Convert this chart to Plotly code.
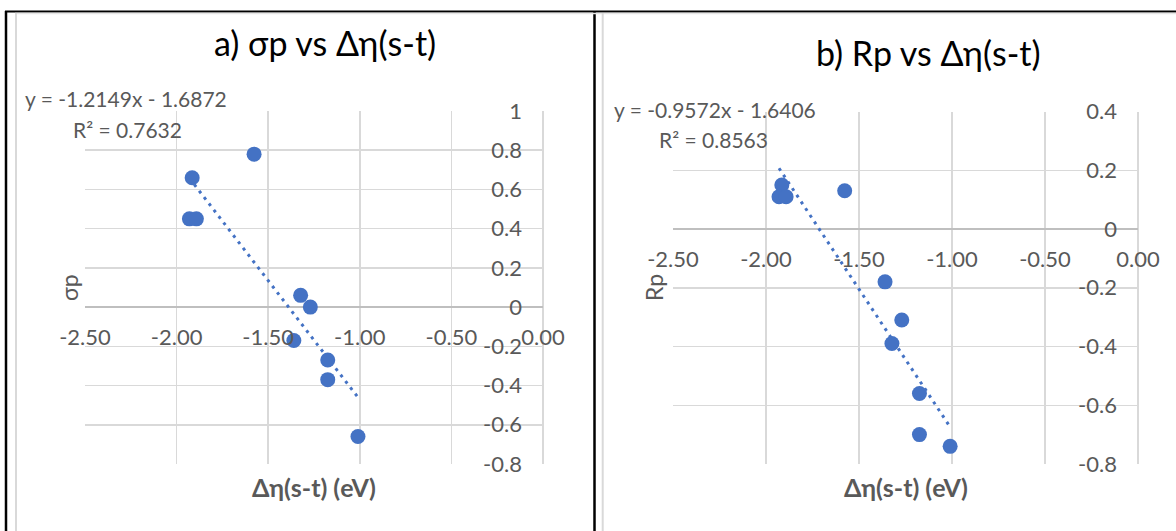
import plotly.graph_objects as go

W, H = 1176, 531

# ---------------- data ----------------
delta_eta = [-1.577, -1.915, -1.93, -1.892, -1.323, -1.27, -1.36, -1.175, -1.175, -1.01]
sigma_p = [0.78, 0.66, 0.45, 0.45, 0.06, 0.00, -0.17, -0.27, -0.37, -0.66]
r_p = [0.13, 0.15, 0.11, 0.11, -0.39, -0.31, -0.18, -0.56, -0.70, -0.74]

fit_a = (-1.2149, -1.6872)   # slope, intercept (from chart label)
fit_b = (-0.9572, -1.6406)

x_ticks = [-2.5, -2.0, -1.5, -1.0, -0.5, 0.0]
x_ticktext = ["-2.50", "-2.00", "-1.50", "-1.00", "-0.50", "0.00"]
ya_ticks = [1, 0.8, 0.6, 0.4, 0.2, 0, -0.2, -0.4, -0.6, -0.8]
ya_ticktext = ["1", "0.8", "0.6", "0.4", "0.2", "0", "-0.2", "-0.4", "-0.6", "-0.8"]
yb_ticks = [0.4, 0.2, 0, -0.2, -0.4, -0.6, -0.8]
yb_ticktext = ["0.4", "0.2", "0", "-0.2", "-0.4", "-0.6", "-0.8"]

titles = ["a) σp vs Δη(s-t)", "b) Rp vs Δη(s-t)"]
eq_texts = [("y = -1.2149x - 1.6872", "R² = 0.7632"), ("y = -0.9572x - 1.6406", "R² = 0.8563")]
y_titles = ["σp", "Rp"]
x_title = "<b>Δη(s-t) (eV)</b>"

# ---------------- style ----------------
BLUE = "#4472C4"
GRID = "#D9D9D9"
TXT = "#595959"
FONT = "Lato"
TICK_SIZE = 22

def px_x(p):
    return p / W

def px_y(p):
    return 1 - p / H

# plot areas in pixels (left, right, top, bottom)
areas = [(85, 543, 111, 464), (673, 1138, 111.5, 464)]
yranges = [(-0.8, 1.0), (-0.8, 0.4)]
xrange_ = (-2.5, 0.0)

fig = go.Figure()

series = [sigma_p, r_p]
fits = [fit_a, fit_b]
for i in range(2):
    xa = "x" if i == 0 else "x2"
    ya = "y" if i == 0 else "y2"
    xmin, xmax = min(delta_eta), max(delta_eta)
    slope, icpt = fits[i]
    fig.add_trace(go.Scatter(
        x=[xmin, xmax], y=[slope * xmin + icpt, slope * xmax + icpt],
        mode="lines", line=dict(color=BLUE, width=3, dash="3px,5px"),
        xaxis=xa, yaxis=ya, showlegend=False, hoverinfo="skip"))
    fig.add_trace(go.Scatter(
        x=delta_eta, y=series[i], mode="markers",
        marker=dict(color=BLUE, size=15, line=dict(width=0)),
        xaxis=xa, yaxis=ya, showlegend=False))

layout = dict(
    width=W, height=H, margin=dict(l=0, r=0, t=0, b=0, pad=0, autoexpand=False),
    paper_bgcolor="white", plot_bgcolor="white",
    font=dict(family=FONT, color=TXT, size=TICK_SIZE),
    showlegend=False,
)

ytick_sets = [(ya_ticks, ya_ticktext), (yb_ticks, yb_ticktext)]
for i in range(2):
    l, r, t, b = areas[i]
    dx = [px_x(l), px_x(r)]
    dy = [px_y(b), px_y(t)]
    y0, y1 = yranges[i]
    zero_pos = dy[0] + (0 - y0) / (y1 - y0) * (dy[1] - dy[0])
    sx = "" if i == 0 else "2"
    layout["xaxis" + sx] = dict(
        domain=dx, range=list(xrange_), anchor="free", position=zero_pos,
        tickvals=x_ticks, ticktext=x_ticktext, showgrid=True, gridcolor=GRID,
        gridwidth=1.5, zeroline=True, zerolinecolor=GRID, zerolinewidth=1.5,
        showline=False, ticks="", ticklabelstandoff=15, automargin=False,
        tickfont=dict(family=FONT, color=TXT, size=TICK_SIZE),
        fixedrange=True,
    )
    yv, yt = ytick_sets[i]
    layout["yaxis" + sx] = dict(
        domain=dy, range=[y0, y1], anchor="free", position=dx[1], side="left",
        tickvals=yv, ticktext=yt, showgrid=True, gridcolor=GRID, gridwidth=1.5,
        zeroline=True, zerolinecolor="#BFBFBF", zerolinewidth=1.5,
        showline=False, ticks="", ticklabelstandoff=21, automargin=False,
        tickfont=dict(family=FONT, color=TXT, size=TICK_SIZE),
        fixedrange=True,
    )

annotations = []
title_pos = [(325, 42), (928, 52)]
eq_pos = [((23, 99), (71, 129)), ((612, 110), (657, 139))]
ytitle_pos = [(69, 288), (654, 288)]
for i in range(2):
    tx, ty = title_pos[i]
    annotations.append(dict(x=px_x(tx), y=px_y(ty), xref="paper", yref="paper",
                            text=titles[i], showarrow=False, xanchor="center", yanchor="middle",
                            font=dict(family=FONT, size=34, color="#000000")))
    (e1x, e1y), (e2x, e2y) = eq_pos[i]
    annotations.append(dict(x=px_x(e1x), y=px_y(e1y), xref="paper", yref="paper",
                            text=eq_texts[i][0], showarrow=False, xanchor="left", yanchor="middle",
                            font=dict(family=FONT, size=21, color=TXT)))
    annotations.append(dict(x=px_x(e2x), y=px_y(e2y), xref="paper", yref="paper",
                            text=eq_texts[i][1], showarrow=False, xanchor="left", yanchor="middle",
                            font=dict(family=FONT, size=21, color=TXT)))
    yx, yy = ytitle_pos[i]
    annotations.append(dict(x=px_x(yx), y=px_y(yy), xref="paper", yref="paper",
                            text=y_titles[i], showarrow=False, textangle=-90,
                            xanchor="center", yanchor="middle",
                            font=dict(family=FONT, size=23, color=TXT)))
    l, r, t, b = areas[i]
    annotations.append(dict(x=px_x((l + r) / 2), y=px_y(487), xref="paper", yref="paper",
                            text=x_title, showarrow=False, xanchor="center", yanchor="middle",
                            font=dict(family=FONT, size=25, color=TXT)))
layout["annotations"] = annotations

shapes = []
def line(x0, y0, x1, y1, color, width):
    shapes.append(dict(type="line", xref="paper", yref="paper",
                       x0=px_x(x0), y0=px_y(y0), x1=px_x(x1), y1=px_y(y1),
                       line=dict(color=color, width=width)))

# black frame
line(5, 11.5, W, 11.5, "#000000", 2)
line(6, 11, 6, H, "#000000", 2.5)
line(594.5, 11, 594.5, H, "#000000", 2.5)
# grey chart borders
line(15, 13.5, W, 13.5, "#E6E6E6", 1.5)
line(16, 13, 16, H, GRID, 2)
line(602.7, 13, 602.7, H, GRID, 2)
layout["shapes"] = shapes

fig.update_layout(**layout)
fig.write_html("out.html",
               config={"displayModeBar": False, "staticPlot": True},
               post_script="document.body.style.margin='0px';document.body.style.overflow='hidden';")
